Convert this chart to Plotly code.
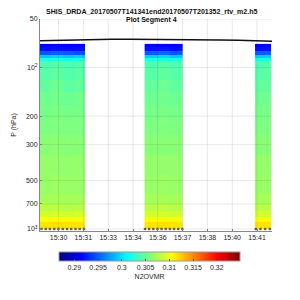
import plotly.graph_objects as go
import math

# ---------------- data ----------------
title_line1 = "SHIS_DRDA_20170507T141341end20170507T201352_rtv_m2.h5"
title_line2 = "Plot Segment 4"

# pressure band edges (hPa)
p_edges = [71.3, 74.5, 78.8, 83.4, 87.0, 90.8, 100, 119, 141, 170, 204,
           260, 345, 459, 610, 703, 776, 846, 908, 1000]

# time (minutes after 15:00) column edges of each data segment
bar1_x = [29.52, 30.15, 30.78, 31.40, 32.01]
bar2_x = [35.32, 36.02, 36.72, 37.43]
bar3_x = [41.44, 41.89, 42.34]

# N2O VMR per band (rows) and column (cols)
bar1_z = [
    [0.2914, 0.2916, 0.2915, 0.2914],
    [0.2920, 0.2923, 0.2921, 0.2922],
    [0.2948, 0.2952, 0.2950, 0.2946],
    [0.2990, 0.2994, 0.2988, 0.2992],
    [0.3020, 0.3024, 0.3018, 0.3021],
    [0.3040, 0.3042, 0.3039, 0.3041],
    [0.3043, 0.3046, 0.3042, 0.3044],
    [0.3047, 0.3052, 0.3046, 0.3048],
    [0.3052, 0.3054, 0.3051, 0.3053],
    [0.3055, 0.3057, 0.3055, 0.3056],
    [0.3058, 0.3059, 0.3058, 0.3058],
    [0.3062, 0.3063, 0.3061, 0.3062],
    [0.3066, 0.3066, 0.3065, 0.3066],
    [0.3068, 0.3069, 0.3068, 0.3068],
    [0.3072, 0.3073, 0.3072, 0.3073],
    [0.3080, 0.3081, 0.3079, 0.3080],
    [0.3090, 0.3091, 0.3089, 0.3090],
    [0.3104, 0.3106, 0.3105, 0.3104],
    [0.3116, 0.3117, 0.3116, 0.3116],
]
bar2_z = [
    [0.2915, 0.2914, 0.2916],
    [0.2922, 0.2924, 0.2921],
    [0.2950, 0.2955, 0.2948],
    [0.2992, 0.2996, 0.2990],
    [0.3021, 0.3024, 0.3020],
    [0.3040, 0.3043, 0.3040],
    [0.3044, 0.3046, 0.3043],
    [0.3048, 0.3051, 0.3047],
    [0.3052, 0.3053, 0.3052],
    [0.3055, 0.3056, 0.3055],
    [0.3058, 0.3059, 0.3058],
    [0.3062, 0.3062, 0.3062],
    [0.3066, 0.3066, 0.3066],
    [0.3068, 0.3069, 0.3068],
    [0.3073, 0.3073, 0.3072],
    [0.3080, 0.3081, 0.3080],
    [0.3090, 0.3090, 0.3089],
    [0.3105, 0.3105, 0.3104],
    [0.3116, 0.3117, 0.3116],
]
bar3_z = [
    [0.2915, 0.2915],
    [0.2921, 0.2923],
    [0.2950, 0.2952],
    [0.2991, 0.2993],
    [0.3020, 0.3022],
    [0.3040, 0.3041],
    [0.3043, 0.3045],
    [0.3047, 0.3048],
    [0.3052, 0.3053],
    [0.3055, 0.3056],
    [0.3058, 0.3058],
    [0.3062, 0.3062],
    [0.3066, 0.3066],
    [0.3068, 0.3068],
    [0.3072, 0.3073],
    [0.3080, 0.3080],
    [0.3090, 0.3090],
    [0.3105, 0.3105],
    [0.3116, 0.3116],
]

# tropopause-like line
line_t = [29.52, 30.5, 31.5, 32.5, 33.5, 34.5, 35.5, 36.5, 37.5, 38.5, 39.5, 40.5, 41.5, 42.38]
line_p = [68.1, 67.7, 67.2, 67.0, 66.8, 66.7, 66.7, 66.8, 66.9, 67.1, 67.4, 67.8, 68.4, 68.8]

# surface markers
dot_t = [29.60, 29.84, 30.07, 30.31, 30.54, 30.78, 31.02, 31.25, 31.49, 31.72, 31.96,
         35.34, 35.57, 35.80, 36.03, 36.26, 36.49, 36.72, 36.95, 37.18, 37.41,
         41.48, 41.74, 42.00, 42.26]
dot_p = [1000] * len(dot_t)

x_tickvals = [30.55, 31.925, 33.30, 34.675, 36.05, 37.425, 38.80, 40.175, 41.55]
x_ticktext = ["15:30", "15:31", "15:33", "15:34", "15:36", "15:37", "15:38", "15:40", "15:41"]
y_tickvals = [50, 100, 200, 300, 500, 700, 1000]
y_ticktext = ["50", "10<sup>2</sup>", "200", "300", "500", "700", "10<sup>3</sup>"]
cb_tickvals = [0.29, 0.295, 0.30, 0.305, 0.31, 0.315, 0.32]
cb_ticktext = ["0.29", "0.295", "0.3", "0.305", "0.31", "0.315", "0.32"]
c_min, c_max = 0.2868, 0.3249

x_range = [29.52, 42.38]
p_range = [1029, 50]

jet = [[0.0, "rgb(0,0,128)"], [0.125, "rgb(0,0,255)"], [0.375, "rgb(0,255,255)"],
       [0.625, "rgb(255,255,0)"], [0.875, "rgb(255,0,0)"], [1.0, "rgb(128,0,0)"]]

FONT = "Liberation Sans, Arial, sans-serif"
TXT = "#262626"

fig = go.Figure()
for bx, bz in [(bar1_x, bar1_z), (bar2_x, bar2_z), (bar3_x, bar3_z)]:
    fig.add_trace(go.Heatmap(x=bx, y=p_edges, z=bz, coloraxis="coloraxis",
                             hoverinfo="skip"))

fig.add_trace(go.Scatter(x=line_t, y=line_p, mode="lines",
                         line=dict(color="#111111", width=1.5),
                         hoverinfo="skip", showlegend=False))
fig.add_trace(go.Scatter(x=dot_t, y=dot_p, mode="markers",
                         marker=dict(symbol="square", size=2.4, color="#666666",
                                     line=dict(width=0)),
                         hoverinfo="skip", showlegend=False))

shapes = []
for xv in x_tickvals:
    shapes.append(dict(type="line", xref="x", yref="paper", x0=xv, x1=xv, y0=0, y1=1,
                       line=dict(color="rgba(0,0,0,0.09)", width=1), layer="above"))
for yv in y_tickvals:
    shapes.append(dict(type="line", xref="paper", yref="y", x0=0, x1=1, y0=yv, y1=yv,
                       line=dict(color="rgba(0,0,0,0.09)", width=1), layer="above"))

fig.update_layout(
    width=300, height=300,
    margin=dict(l=40, r=28, t=19, b=69),
    paper_bgcolor="white", plot_bgcolor="white",
    font=dict(family=FONT, size=7, color=TXT),
    showlegend=False,
    shapes=shapes,
    coloraxis=dict(
        colorscale=jet, cmin=c_min, cmax=c_max,
        colorbar=dict(
            orientation="h", lenmode="pixels", len=181, thickness=9,
            x=0.4724, xanchor="center", y=-0.099, yanchor="top",
            xpad=0, ypad=0, outlinewidth=1, outlinecolor="#999999",
            tickvals=cb_tickvals, ticktext=cb_ticktext, ticks="inside",
            ticklen=2, tickcolor="#444444",
            tickfont=dict(family=FONT, size=7, color=TXT),
            title=dict(text="N2OVMR", side="bottom",
                       font=dict(family=FONT, size=7, color=TXT)),
        ),
    ),
    xaxis=dict(range=x_range, tickvals=x_tickvals, ticktext=x_ticktext,
               showgrid=False, zeroline=False, showline=True, linecolor="#888888",
               linewidth=1, ticks="inside", ticklen=2, tickcolor="#888888",
               tickfont=dict(family=FONT, size=7, color=TXT)),
    yaxis=dict(type="log", range=[math.log10(p_range[0]), math.log10(p_range[1])],
               tickvals=y_tickvals, ticktext=y_ticktext,
               showgrid=False, zeroline=False, showline=True, linecolor="#888888",
               linewidth=1, ticks="inside", ticklen=2, tickcolor="#888888",
               tickfont=dict(family=FONT, size=7, color=TXT),
               title=dict(text="P (hPa)", standoff=8,
                          font=dict(family=FONT, size=7, color=TXT))),
    annotations=[
        dict(text="<b>" + title_line1 + "</b>", xref="paper", yref="paper",
             x=0.48, y=1, yshift=13, showarrow=False,
             font=dict(family=FONT, size=7, color="#111111")),
        dict(text="<b>" + title_line2 + "</b>", xref="paper", yref="paper",
             x=0.48, y=1, yshift=5, showarrow=False,
             font=dict(family=FONT, size=7, color="#111111")),
    ],
)

fig.write_html("out.html")
